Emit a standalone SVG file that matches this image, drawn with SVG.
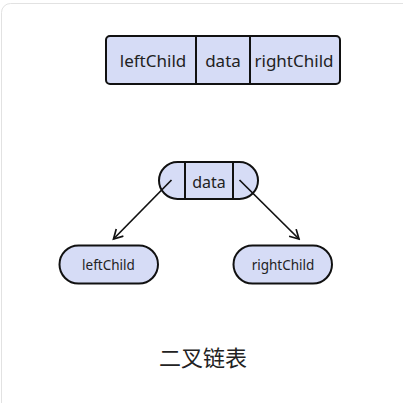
<svg xmlns="http://www.w3.org/2000/svg" width="403" height="403" viewBox="0 0 403 403">
<defs>
<style>
.box{fill:#d6dcf6;stroke:#111;stroke-width:2}
.div{stroke:#111;stroke-width:2}
.t{font-family:"Noto Sans","Liberation Sans",sans-serif;fill:#222;text-anchor:middle}
.cjk{font-family:"Noto Sans CJK SC","Noto Sans",sans-serif}
.edge{stroke:#111;stroke-width:1.7;fill:none}
</style>
<marker id="ah" viewBox="0 0 12 12" refX="10" refY="6" markerWidth="12" markerHeight="12" markerUnits="userSpaceOnUse" orient="auto">
<path d="M1,1 L10,6 L1,11" fill="none" stroke="#111" stroke-width="1.7"/>
</marker>
</defs>
<rect width="403" height="403" fill="#fff"/>
<rect x="1.5" y="3.5" width="430" height="430" rx="9" fill="#fff" stroke="#e2e2e2" stroke-width="1"/>
<g id="record">
<rect class="box" x="106" y="36" width="234" height="48" rx="4"/>
<line class="div" x1="196" y1="36" x2="196" y2="84"/>
<line class="div" x1="250" y1="36" x2="250" y2="84"/>
<text class="t" x="153" y="67" font-size="17">leftChild</text>
<text class="t" x="223" y="67" font-size="17">data</text>
<text class="t" x="294" y="67" font-size="17">rightChild</text>
</g>
<g id="root">
<rect class="box" x="159" y="162" width="99" height="37" rx="18.5"/>
<line class="div" x1="185" y1="162" x2="185" y2="199"/>
<line class="div" x1="233" y1="162" x2="233" y2="199"/>
<text class="t" x="209" y="188" font-size="16">data</text>
</g>
<g id="left">
<rect class="box" x="59.5" y="245.5" width="98.5" height="38" rx="19"/>
<text class="t" x="108.5" y="270" font-size="13.5">leftChild</text>
</g>
<g id="right">
<rect class="box" x="233.5" y="245.5" width="98.5" height="38" rx="19"/>
<text class="t" x="283" y="270" font-size="13.5">rightChild</text>
</g>
<g id="connectors">
<line class="edge" x1="171.5" y1="180" x2="113.5" y2="239" marker-end="url(#ah)"/>
<line class="edge" x1="239.5" y1="180" x2="299" y2="239" marker-end="url(#ah)"/>
</g>
<text class="t cjk" x="203" y="366" font-size="22">二叉链表</text>
</svg>
